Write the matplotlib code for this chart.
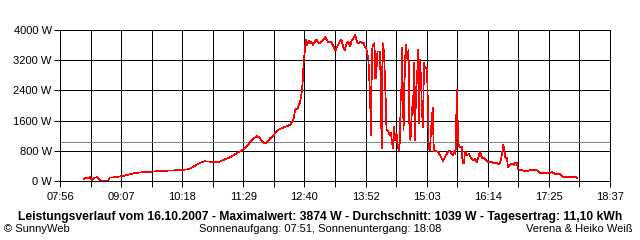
import numpy as np
import matplotlib.pyplot as plt

# Leistungsverlauf 16.10.2007 (Zeit in Minuten ab Mitternacht, Leistung in W)
zeit_morgen = [504, 506, 509, 511, 513, 516, 519, 521, 523, 525, 532, 534, 540, 546,
               553, 561, 569, 581, 593, 601, 610, 618, 625, 630, 634, 639, 645, 651,
               657, 662, 668, 674, 682, 689, 695, 700, 706, 709, 713, 717, 721, 724,
               730, 736, 741, 744, 748, 750, 753, 756, 758, 759, 760, 762]
watt_morgen = [45, 93, 66, 98, 26, 93, 98, 66, 13, 0, 0, 93, 98, 120,
               150, 200, 225, 245, 265, 273, 284, 292, 310, 358, 416, 477, 522, 511,
               511, 511, 575, 628, 734, 822, 954, 1105, 1193, 1132, 1015, 1015, 1132, 1193,
               1352, 1412, 1458, 1484, 1617, 1882, 1927, 2101, 2412, 2677, 3154, 3604]

zeit_mittag = [763, 764, 766, 767, 769, 771, 773, 775, 777, 779, 781, 783, 785, 787,
               789, 791, 793, 795, 797, 799, 800, 802, 804, 806, 808, 810, 812, 814,
               816, 818, 820, 822, 824, 826, 828, 830, 831, 833]
watt_mittag = [3737, 3604, 3718, 3649, 3692, 3604, 3692, 3737, 3665, 3649, 3692, 3755, 3808, 3737,
               3665, 3692, 3649, 3559, 3453, 3559, 3604, 3692, 3737, 3559, 3472, 3649, 3692, 3559,
               3737, 3782, 3874, 3692, 3649, 3692, 3649, 3665, 3559, 3517]

zeit_wolken = [835.5, 837.3, 838.5, 839.6, 840.8, 842.5, 843.5, 844.3, 846, 849, 850.9, 851.9, 853.6,
               855.6, 856.5, 858.3, 860, 861.8, 863, 864.1, 865.3, 866.4, 868.2, 869.9, 871.1,
               872.3, 873.1, 874, 874.6, 876.4, 878.1, 879.3, 881, 882.2, 883.3, 884.5, 886.3,
               887.4, 888.6, 889.8, 890.9, 892.1, 893.3, 894.4, 895.6, 896.8, 897.9, 899.1,
               900.2, 901.4, 902.6, 903.7, 904.9, 905.7, 907.2, 908.4, 910.4, 911.3, 911.9]
watt_wolken = [3207, 2279, 1219, 3472, 3604, 3657, 2720, 2720, 3427, 3427, 875, 3649, 3427,
               2147, 1352, 1325, 1219, 1272, 1007, 875, 1431, 1087, 1272, 875, 822,
               1087, 2412, 2147, 3525, 1352, 3207, 3604, 3207, 3472, 1219, 1087, 1961,
               1802, 3127, 1087, 2412, 2677, 3472, 1537, 3207, 2677, 1802, 1431,
               3127, 2994, 2994, 2994, 1882, 875, 822, 1352, 1935, 1041, 803]

zeit_abend = [914.2, 916.6, 918.9, 922.4, 925.9, 928.2, 930.5, 932.3, 934, 935.8, 936.9, 937.5,
              938.3, 939.3, 940.5, 942.2, 944.5, 945.1, 946.9, 948, 950.4, 952.7, 955, 957.4,
              959.7, 962, 964.4, 965.5, 967.8, 970.2, 972.5, 974.8, 978.3, 981.8, 985.3, 987.7,
              990, 992.7, 993.5, 995.2, 997, 998.1, 1000.5, 1002.8, 1005.1, 1006.3, 1008.6,
              1009.8, 1012.1, 1016.8, 1021.4, 1024.9, 1029.6, 1033.1, 1035.4, 1041.3, 1045.9,
              1049.4, 1053, 1058.8, 1062.3, 1067, 1072.8, 1077.5, 1079]
watt_abend = [795, 769, 689, 538, 689, 776, 803, 716, 689, 795, 716, 1041,
              2412, 1704, 954, 909, 909, 469, 469, 776, 689, 716, 602, 557,
              575, 511, 689, 776, 610, 610, 557, 511, 511, 469, 469, 443,
              557, 954, 867, 610, 610, 363, 424, 469, 424, 469, 469,
              310, 292, 273, 273, 292, 292, 273, 204, 204, 204,
              231, 186, 186, 114, 98, 98, 98, 72]

durchschnitt = 1039
x_labels = ['07:56', '09:07', '10:18', '11:29', '12:40', '13:52', '15:03', '16:14', '17:25', '18:37']
y_ticks = [0, 800, 1600, 2400, 3200, 4000]

zeit = zeit_morgen + zeit_mittag + zeit_wolken + zeit_abend
watt = watt_morgen + watt_mittag + watt_wolken + watt_abend

plt.rcParams['font.family'] = ['Liberation Sans', 'DejaVu Sans']

fig = plt.figure(figsize=(6.4, 2.4), dpi=100)
ax = fig.add_axes([60 / 640, 1 - 181 / 240, 550 / 640, 151 / 240])

t0, t1 = 476, 1117
major = np.linspace(t0, t1, 10)
minor = (major[:-1] + major[1:]) / 2

lw = 0.72  # 1 Pixel
ax.plot(zeit, watt, color='red', lw=0.5, antialiased=False, zorder=3)
ax.axhline(durchschnitt, color='#808080', lw=lw, antialiased=False, zorder=2)

ax.set_xlim(t0, t1)
ax.set_ylim(0, 4000)
ax.set_xticks(major)
ax.set_xticks(minor, minor=True)
ax.set_xticklabels(x_labels)
ax.set_yticks(y_ticks)
ax.set_yticklabels([f'{v} W' for v in y_ticks])
ax.grid(True, which='both', color='black', lw=lw, antialiased=False)
ax.set_axisbelow(True)
ax.tick_params(which='both', direction='out', length=4, width=lw, color='black',
               labelsize=8)
ax.tick_params(axis='x', pad=4)
ax.tick_params(axis='y', pad=2)
for s in ax.spines.values():
    s.set_linewidth(lw)
    s.set_color('black')

fig.text(0.5, 1 - 217 / 240,
         'Leistungsverlauf vom 16.10.2007 - Maximalwert: 3874 W - Durchschnitt: 1039 W - Tagesertrag: 11,10 kWh',
         ha='center', va='center', fontsize=8.7, fontweight='bold')
fig.text(4 / 640, 1 - 229 / 240, '© SunnyWeb', ha='left', va='center', fontsize=8)
fig.text(0.5, 1 - 229 / 240, 'Sonnenaufgang: 07:51, Sonnenuntergang: 18:08',
         ha='center', va='center', fontsize=8)
fig.text(633 / 640, 1 - 229 / 240, 'Verena & Heiko Weiß', ha='right', va='center', fontsize=8)

fig.savefig('out.png', dpi=100)
